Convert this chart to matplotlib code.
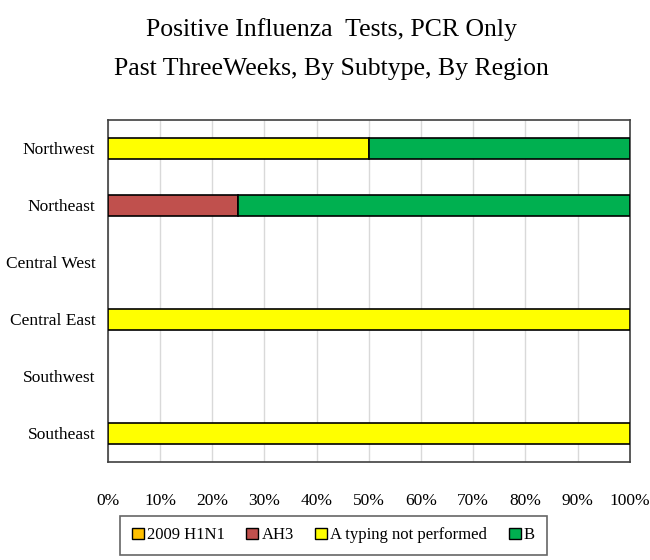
import numpy as np
import matplotlib
matplotlib.use('Agg')
import matplotlib.pyplot as plt

# regions top to bottom
regions = ['Northwest', 'Northeast', 'Central West', 'Central East', 'Southwest', 'Southeast']
h1n1 = [0, 0, 0, 0, 0, 0]
ah3 = [0, 25, 0, 0, 0, 0]
a_not_typed = [50, 0, 0, 100, 0, 100]
b = [50, 75, 0, 0, 0, 0]

series = [('2009 H1N1', h1n1, '#FFC000'),
          ('AH3', ah3, '#C0504D'),
          ('A typing not performed', a_not_typed, '#FFFF00'),
          ('B', b, '#00B050')]

plt.rcParams['font.family'] = ['Liberation Serif', 'DejaVu Serif']

fig = plt.figure(figsize=(6.5, 5.6), dpi=100)
ax = fig.add_axes([0.166, 0.175, 0.803, 0.611])

y = np.arange(len(regions))
left = np.zeros(len(regions))
for name, vals, col in series:
    vals = np.array(vals, dtype=float)
    lw = [1.2 if v > 0 else 0 for v in vals]
    ax.barh(y, vals, left=left, height=0.38, color=col, edgecolor='black',
            linewidth=lw, label=name, zorder=3)
    left += vals

ax.set_xlim(0, 100)
ax.set_ylim(len(regions) - 0.5, -0.5)
ax.set_yticks(y)
ax.set_yticklabels(regions, fontsize=12.5)
ax.set_xticks(np.arange(0, 101, 10))
ax.set_xticklabels([f'{v}%' for v in range(0, 101, 10)], fontsize=12.5)
ax.tick_params(axis='x', length=0, pad=22)
ax.tick_params(axis='y', length=0, pad=9)
ax.grid(axis='x', color='#D9D9D9', linewidth=1, zorder=0)
for s in ax.spines.values():
    s.set_color('#404040')
    s.set_linewidth(1.2)

fig.text(0.51, 0.913, 'Positive Influenza  Tests, PCR Only\nPast ThreeWeeks, By Subtype, By Region',
         fontsize=18.5, ha='center', va='center', linespacing=2.0)

leg = fig.legend(loc='lower center', bbox_to_anchor=(0.513, -0.006), ncol=4, fontsize=12,
                 frameon=True, fancybox=False, edgecolor='#404040',
                 handlelength=0.7, handleheight=0.7, handletextpad=0.2,
                 columnspacing=1.3, borderpad=0.7)
leg.get_frame().set_linewidth(1.2)
for h in leg.legend_handles:
    h.set_linewidth(1.0)
    h.set_edgecolor('black')

fig.savefig('out.png', dpi=100)
